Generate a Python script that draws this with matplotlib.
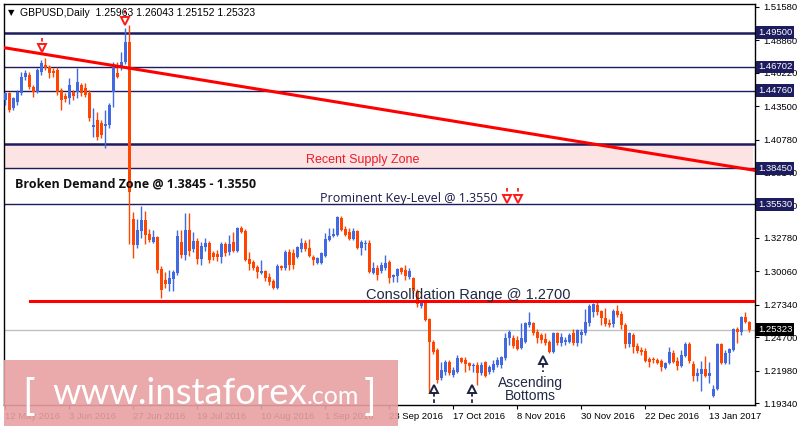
import numpy as np
import matplotlib.pyplot as plt
from matplotlib.patches import Rectangle

plt.rcParams['font.family'] = ['Liberation Sans', 'DejaVu Sans']

# GBPUSD daily bars, 12 May 2016 .. Jan 2017
opens = [1.4401, 1.4458, 1.4336, 1.4385, 1.4458, 1.4588, 1.4604, 1.4507, 1.4466, 1.4629,
         1.4686, 1.4670, 1.4637, 1.4645, 1.4482, 1.4434, 1.4417, 1.4466, 1.4466, 1.4523,
         1.4499, 1.4458, 1.4181, 1.4238, 1.4214, 1.4189, 1.4197, 1.4466, 1.4621, 1.4670,
         1.4710, 1.4873, 1.3432, 1.3221, 1.3335, 1.3424, 1.3310, 1.3245, 1.3286, 1.3025,
         1.2936, 1.2903, 1.2944, 1.2993, 1.3245, 1.3139, 1.3343, 1.3188, 1.3253, 1.3107,
         1.3204, 1.3237, 1.3156, 1.3147, 1.3123, 1.3229, 1.3164, 1.3245, 1.3172, 1.3359,
         1.3335, 1.3107, 1.3082, 1.3042, 1.2993, 1.3009, 1.2960, 1.2928, 1.2871, 1.3050,
         1.3033, 1.3164, 1.3156, 1.3123, 1.3188, 1.3237, 1.3196, 1.3123, 1.3074, 1.3074,
         1.3131, 1.3261, 1.3294, 1.3302, 1.3440, 1.3351, 1.3327, 1.3269, 1.3335, 1.3196,
         1.3229, 1.3237, 1.2993, 1.3033, 1.3009, 1.3033, 1.3082, 1.2960, 1.2968, 1.3033,
         1.3017, 1.2960, 1.2952, 1.2846, 1.2724, 1.2749, 1.2618, 1.2431, 1.2366, 1.2138,
         1.2187, 1.2268, 1.2163, 1.2187, 1.2301, 1.2285, 1.2260, 1.2236, 1.2244, 1.2179,
         1.2268, 1.2187, 1.2203, 1.2244, 1.2244, 1.2301, 1.2463, 1.2463, 1.2447, 1.2382,
         1.2431, 1.2569, 1.2586, 1.2512, 1.2488, 1.2455, 1.2431, 1.2350, 1.2504, 1.2423,
         1.2431, 1.2431, 1.2504, 1.2423, 1.2488, 1.2504, 1.2586, 1.2675, 1.2732, 1.2683,
         1.2627, 1.2586, 1.2578, 1.2683, 1.2659, 1.2569, 1.2415, 1.2488, 1.2399, 1.2366,
         1.2358, 1.2293, 1.2293, 1.2285, 1.2276, 1.2220, 1.2260, 1.2342, 1.2276, 1.2236,
         1.2317, 1.2415, 1.2252, 1.2154, 1.2171, 1.2212, 1.2154, 1.1992, 1.2049, 1.2415,
         1.2260, 1.2342, 1.2366, 1.2537, 1.2512, 1.2635, 1.25963]
highs = [1.4466, 1.4466, 1.4425, 1.4482, 1.4629, 1.4645, 1.4629, 1.4523, 1.4661, 1.4727,
         1.4743, 1.4686, 1.4661, 1.4670, 1.4499, 1.4458, 1.4580, 1.4482, 1.4661, 1.4540,
         1.4540, 1.4482, 1.4336, 1.4304, 1.4238, 1.4320, 1.4377, 1.4710, 1.4710, 1.4792,
         1.4987, 1.5011, 1.3489, 1.3432, 1.3538, 1.3497, 1.3351, 1.3343, 1.3294, 1.3050,
         1.3001, 1.3017, 1.3017, 1.3343, 1.3343, 1.3481, 1.3481, 1.3327, 1.3278, 1.3245,
         1.3278, 1.3253, 1.3172, 1.3180, 1.3245, 1.3245, 1.3302, 1.3327, 1.3367, 1.3375,
         1.3351, 1.3164, 1.3099, 1.3058, 1.3099, 1.3017, 1.2993, 1.2944, 1.3066, 1.3058,
         1.3180, 1.3188, 1.3188, 1.3213, 1.3278, 1.3261, 1.3269, 1.3139, 1.3123, 1.3164,
         1.3318, 1.3359, 1.3359, 1.3457, 1.3457, 1.3375, 1.3359, 1.3359, 1.3343, 1.3261,
         1.3261, 1.3261, 1.3082, 1.3058, 1.3082, 1.3139, 1.3099, 1.2985, 1.3033, 1.3042,
         1.3058, 1.3033, 1.2960, 1.2862, 1.2773, 1.2773, 1.2627, 1.2447, 1.2382, 1.2268,
         1.2285, 1.2285, 1.2228, 1.2325, 1.2309, 1.2309, 1.2268, 1.2260, 1.2268, 1.2268,
         1.2276, 1.2244, 1.2285, 1.2309, 1.2317, 1.2504, 1.2529, 1.2488, 1.2480, 1.2586,
         1.2594, 1.2675, 1.2594, 1.2537, 1.2504, 1.2504, 1.2447, 1.2512, 1.2512, 1.2504,
         1.2472, 1.2504, 1.2537, 1.2537, 1.2537, 1.2700, 1.2741, 1.2749, 1.2757, 1.2692,
         1.2708, 1.2618, 1.2700, 1.2732, 1.2683, 1.2586, 1.2512, 1.2504, 1.2423, 1.2390,
         1.2382, 1.2309, 1.2309, 1.2301, 1.2293, 1.2268, 1.2390, 1.2366, 1.2309, 1.2366,
         1.2431, 1.2431, 1.2276, 1.2220, 1.2276, 1.2317, 1.2268, 1.2081, 1.2423, 1.2423,
         1.2366, 1.2382, 1.2545, 1.2553, 1.2643, 1.2675, 1.26043]
lows = [1.4360, 1.4304, 1.4320, 1.4360, 1.4442, 1.4564, 1.4491, 1.4425, 1.4458, 1.4604,
        1.4645, 1.4580, 1.4588, 1.4442, 1.4320, 1.4385, 1.4368, 1.4401, 1.4417, 1.4434,
        1.4425, 1.4230, 1.4100, 1.4075, 1.4092, 1.4010, 1.4173, 1.4344, 1.4580, 1.4645,
        1.4694, 1.3229, 1.3115, 1.3196, 1.3278, 1.3229, 1.3245, 1.3237, 1.2993, 1.2789,
        1.2871, 1.2846, 1.2846, 1.2977, 1.3115, 1.3099, 1.3131, 1.3164, 1.3066, 1.3058,
        1.3172, 1.3074, 1.3099, 1.3090, 1.3074, 1.3131, 1.3139, 1.3164, 1.3164, 1.3318,
        1.3090, 1.3017, 1.3017, 1.2952, 1.2985, 1.2928, 1.2895, 1.2862, 1.2862, 1.3017,
        1.3017, 1.3017, 1.3025, 1.3115, 1.3164, 1.3172, 1.3123, 1.3058, 1.3066, 1.3066,
        1.3123, 1.3253, 1.3286, 1.3294, 1.3335, 1.3294, 1.3261, 1.3261, 1.3188, 1.3139,
        1.3180, 1.2993, 1.2985, 1.2936, 1.2993, 1.3017, 1.2911, 1.2920, 1.2920, 1.2985,
        1.2936, 1.2944, 1.2830, 1.2716, 1.2708, 1.2602, 1.2024, 1.2334, 1.2097, 1.2122,
        1.2163, 1.2163, 1.2146, 1.2179, 1.2260, 1.2187, 1.2203, 1.2187, 1.2081, 1.2163,
        1.2146, 1.2171, 1.2187, 1.2228, 1.2220, 1.2285, 1.2407, 1.2382, 1.2366, 1.2374,
        1.2423, 1.2553, 1.2488, 1.2423, 1.2423, 1.2407, 1.2342, 1.2342, 1.2407, 1.2399,
        1.2407, 1.2423, 1.2407, 1.2399, 1.2423, 1.2488, 1.2561, 1.2635, 1.2651, 1.2569,
        1.2561, 1.2553, 1.2553, 1.2635, 1.2537, 1.2382, 1.2390, 1.2342, 1.2342, 1.2325,
        1.2268, 1.2228, 1.2260, 1.2252, 1.2195, 1.2212, 1.2252, 1.2260, 1.2203, 1.2228,
        1.2309, 1.2260, 1.2114, 1.2114, 1.2032, 1.2146, 1.2097, 1.1984, 1.2040, 1.2252,
        1.2252, 1.2252, 1.2358, 1.2423, 1.2488, 1.2586, 1.25152]
closes = [1.4458, 1.4320, 1.4417, 1.4466, 1.4588, 1.4621, 1.4507, 1.4466, 1.4645, 1.4702,
          1.4661, 1.4621, 1.4621, 1.4466, 1.4401, 1.4409, 1.4523, 1.4434, 1.4548, 1.4458,
          1.4442, 1.4254, 1.4197, 1.4100, 1.4116, 1.4205, 1.4360, 1.4670, 1.4588, 1.4710,
          1.4873, 1.3650, 1.3221, 1.3343, 1.3424, 1.3302, 1.3261, 1.3286, 1.3017, 1.2854,
          1.2903, 1.2952, 1.3001, 1.3294, 1.3139, 1.3343, 1.3172, 1.3253, 1.3107, 1.3213,
          1.3237, 1.3099, 1.3123, 1.3123, 1.3229, 1.3156, 1.3229, 1.3172, 1.3359, 1.3327,
          1.3099, 1.3066, 1.3033, 1.3001, 1.3009, 1.2952, 1.2920, 1.2871, 1.3050, 1.3033,
          1.3164, 1.3058, 1.3058, 1.3204, 1.3237, 1.3188, 1.3131, 1.3099, 1.3115, 1.3156,
          1.3269, 1.3294, 1.3310, 1.3449, 1.3343, 1.3302, 1.3269, 1.3335, 1.3196, 1.3245,
          1.3237, 1.3001, 1.3033, 1.2977, 1.3058, 1.3074, 1.2952, 1.2977, 1.3025, 1.3001,
          1.2968, 1.3009, 1.2846, 1.2741, 1.2749, 1.2610, 1.2431, 1.2350, 1.2122, 1.2203,
          1.2268, 1.2179, 1.2203, 1.2301, 1.2268, 1.2252, 1.2236, 1.2244, 1.2179, 1.2244,
          1.2154, 1.2228, 1.2252, 1.2285, 1.2309, 1.2463, 1.2512, 1.2399, 1.2374, 1.2463,
          1.2586, 1.2594, 1.2504, 1.2463, 1.2447, 1.2423, 1.2350, 1.2504, 1.2423, 1.2472,
          1.2447, 1.2488, 1.2423, 1.2529, 1.2512, 1.2594, 1.2724, 1.2741, 1.2675, 1.2627,
          1.2578, 1.2569, 1.2683, 1.2651, 1.2569, 1.2415, 1.2504, 1.2390, 1.2358, 1.2350,
          1.2276, 1.2268, 1.2285, 1.2260, 1.2228, 1.2260, 1.2350, 1.2268, 1.2236, 1.2325,
          1.2415, 1.2276, 1.2154, 1.2179, 1.2212, 1.2154, 1.2179, 1.2049, 1.2415, 1.2260,
          1.2342, 1.2374, 1.2537, 1.2512, 1.2635, 1.2594, 1.25323]

date_labels = ['12 May 2016', '3 Jun 2016', '27 Jun 2016', '19 Jul 2016', '10 Aug 2016',
               '1 Sep 2016', '23 Sep 2016', '17 Oct 2016', '8 Nov 2016', '30 Nov 2016',
               '22 Dec 2016', '13 Jan 2017']
price_ticks = [1.51580, 1.48860, 1.46220, 1.43500, 1.40780, 1.38140, 1.35420,
               1.32780, 1.30060, 1.27340, 1.24700, 1.21980, 1.19340]

levels = [1.49500, 1.46702, 1.44760, 1.38450, 1.35530]   # labelled horizontal levels
supply_zone = (1.3845, 1.4043)
consolidation = 1.2767
last_price = 1.25323
trend_x = [-0.25, 187.5]
trend_y = [1.4827, 1.3828]

NAVY = '#1c1c5e'
BULL = '#4169e1'
BEAR = '#ff4500'

W, H = 799, 429
fig = plt.figure(figsize=(W / 100, H / 100), dpi=100)
ax = fig.add_axes([4 / W, (H - 405) / H, 751 / W, 401 / H])

def px(x, y):
    return x / W, 1 - y / H

o = np.array(opens); h = np.array(highs); l = np.array(lows); c = np.array(closes)
idx = np.arange(len(c))
cols = np.where(c >= o, BULL, BEAR)

ax.axhline(last_price, color='#c0c0c0', lw=1, zorder=1)
ax.vlines(idx, l, h, colors=cols, lw=1, zorder=3)
body = np.maximum(np.abs(c - o), 0.0004)
ax.bar(idx, body, bottom=np.minimum(o, c), width=0.75, color=cols, lw=0, zorder=3)

# supply zone and levels
ax.axhspan(supply_zone[0], supply_zone[1], xmin=0, xmax=0.996, color='#fce3e4', zorder=0.5)
ax.axhline(supply_zone[1], color=NAVY, lw=1.8, zorder=2)
for lv in levels:
    ax.axhline(lv, color=NAVY, lw=1.8 if lv == 1.495 else 1, zorder=2)

ax.plot(trend_x, trend_y, color='#ff0000', lw=2.2, zorder=4)
ax.plot([6.25, 187.5], [consolidation, consolidation], color='#ff0000', lw=2.2, zorder=4)

ax.set_xlim(-0.25, 187.5)
ax.set_ylim(1.19183, 1.51824)

ax.yaxis.tick_right()
ax.set_yticks(price_ticks)
ax.set_yticklabels(['%.5f' % v for v in price_ticks])
ax.set_xticks(np.arange(0, len(c), 16))
ax.set_xticklabels(date_labels, ha='left')
ax.tick_params(axis='y', length=3, pad=3, labelsize=6.8, colors='black')
ax.tick_params(axis='x', length=3, pad=2, labelsize=6.8, colors='black')
for sp in ax.spines.values():
    sp.set_color('black')
    sp.set_linewidth(1)

# price boxes on the right axis
ytr = ax.get_yaxis_transform()
for lv in levels:
    ax.text(1.004, lv, '%.5f' % lv, transform=ytr, fontsize=6.8, color='white',
            va='center', ha='left', zorder=6,
            bbox=dict(boxstyle='square,pad=0.2', fc=NAVY, ec='none'))
ax.text(1.004, last_price, '%.5f' % last_price, transform=ytr, fontsize=6.8, color='white',
        va='center', ha='left', zorder=6,
        bbox=dict(boxstyle='square,pad=0.2', fc='black', ec='none'))

# arrows
def arrow(x, y0, y1, yh, color, down=True):
    ax.plot([x, x], [y0, y1], color=color, lw=1.3, ls=(0, (2, 1.5)), zorder=5)
    ax.plot([x], [yh], marker='v' if down else '^', ms=6, mfc='white', mec=color,
            mew=1.4, zorder=5, clip_on=False)

arrow(9.25, 1.4906, 1.4849, 1.4824, '#ff1a1a')
arrow(30, 1.5134, 1.5077, 1.5044, '#ff1a1a')
arrow(125.5, 1.3685, 1.3620, 1.3595, '#ff1a1a')
arrow(128.25, 1.3685, 1.3620, 1.3595, '#ff1a1a')
arrow(107.25, 1.2016, 1.1918, 1.2049, '#1c2340', down=False)
arrow(116.75, 1.2016, 1.1918, 1.2049, '#1c2340', down=False)
arrow(134.5, 1.2252, 1.2187, 1.2285, '#1c2340', down=False)

# texts
fig.text(*px(8, 13), '\u25bc', fontsize=6, color='black', va='center', family='DejaVu Sans')
fig.text(*px(20, 13), 'GBPUSD,Daily  1.25963 1.26043 1.25152 1.25323',
         fontsize=7.5, color='black', va='center')
fig.text(*px(306, 160), 'Recent Supply Zone', fontsize=9, color='#ee1c25', va='center')
fig.text(*px(15, 184), 'Broken Demand Zone @ 1.3845 - 1.3550', fontsize=9,
         fontweight='bold', color='#111111', va='center', family=['Open Sans', 'DejaVu Sans'])
fig.text(*px(320, 199), 'Prominent Key-Level @ 1.3550', fontsize=9, color='#1a1a4a',
         va='center', family=['Open Sans', 'DejaVu Sans'])
fig.text(*px(366, 295), 'Consolidation Range @ 1.2700', fontsize=10.5, color='#1f2a44',
         va='center')
fig.text(*px(530, 383), 'Ascending', fontsize=10, color='#1f2a44', va='center', ha='center')
fig.text(*px(530, 396), 'Bottoms', fontsize=10, color='#1f2a44', va='center', ha='center')

# watermark
fig.patches.append(Rectangle(px(4, 426), 394 / W, 66 / H, transform=fig.transFigure,
                             fc='#e8a0a2', ec='none', alpha=0.9, zorder=10))
wm = dict(color='white', va='baseline', zorder=11, family=['Lato', 'DejaVu Sans'])
fig.text(*px(22, 410), '[', fontsize=30, **wm)
main = fig.text(*px(52, 404), 'www.instaforex', fontsize=29, **wm)
fig.canvas.draw()
wpx = main.get_window_extent().width
main.set_fontsize(29 * 255 / wpx)
fig.canvas.draw()
end = main.get_window_extent().x1
fig.text(end / W, 1 - 404 / H, '.com', fontsize=18, **wm)
fig.text(*px(364, 410), ']', fontsize=30, **wm)

fig.savefig('out.png', dpi=100, facecolor='white')
